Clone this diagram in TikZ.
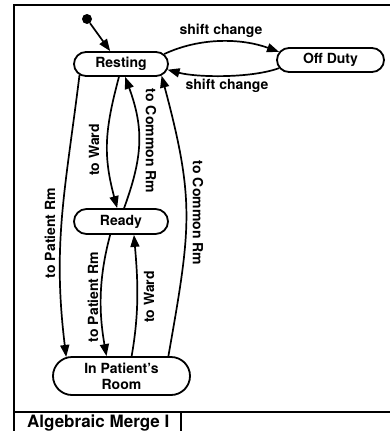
\documentclass[tikz,border=0pt]{standalone}
\usepackage{fontspec}
\setmainfont{TeX Gyre Heros}
\usetikzlibrary{shapes.misc,arrows.meta}
\begin{document}
\begin{tikzpicture}[x=1pt,y=1pt,
  state/.style={draw,line width=1.8pt,rounded rectangle,inner sep=0pt,
    font=\fontsize{14}{16}\selectfont\bfseries,align=center},
  tr/.style={line width=1.7pt,-{Triangle[length=12pt,width=9pt]}},
  lbl/.style={font=\fontsize{14}{16}\selectfont\bfseries,inner sep=0pt},
  frame/.style={line width=2pt}]
\useasboundingbox (0,0) rectangle (390,-431);
\clip (0,0) rectangle (390,-431);
% frame
\draw[frame] (14,-440) -- (14,-5) -- (400,-5);
\draw[frame] (14,-412) -- (400,-412);
\draw[frame] (181,-412) -- (181,-440);
\node[font=\fontsize{17}{20}\selectfont\bfseries,anchor=base west,inner sep=0pt] (title) at (27,-427) {Algebraic Merge I};
% states
\node[circle,fill,inner sep=0pt,minimum size=10pt] (init) at (87,-19) {};
\node[state,minimum width=94pt,minimum height=24pt] (rest) at (121,-64) {Resting};
\node[state,minimum width=107pt,minimum height=24pt] (off) at (330.5,-60) {Off Duty};
\node[state,minimum width=94pt,minimum height=25pt] (ready) at (121,-221.5) {Ready};
\node[state,minimum width=137pt,minimum height=38pt] (pat) at (121.5,-376) {In Patient's\\Room};
% transitions
\draw[tr] (init) -- (rest.130);
\draw[tr] (rest.13) .. controls +(25:40) and +(160:40) .. (off.171);
\draw[tr] (off.189) .. controls +(200:30) and +(-15:30) .. (rest.-7);
\draw[tr] (rest.195) .. controls +(263:115) and +(97:115) .. (pat.161);
\draw[tr] (rest.-99) .. controls +(255:55) and +(105:55) .. (ready.106);
\draw[tr] (ready.77) .. controls +(70:55) and +(-70:55) .. (rest.-72);
\draw[tr] (pat.23) .. controls +(80:130) and +(-75:130) .. (rest.-16);
\draw[tr] (ready.231) .. controls +(255:45) and +(100:45) .. (pat.127);
\draw[tr] (pat.63) .. controls +(80:45) and +(-85:45) .. (ready.-46);
% labels
\node[lbl] (l1) at (221,-31) {shift change};
\node[lbl] (l2) at (227,-86) {shift change};
\node[lbl,rotate=90] (l3) at (50,-233) {to Patient Rm};
\node[lbl,rotate=90] (l4) at (94,-150) {to Ward};
\node[lbl,rotate=-90] (l5) at (151,-141) {to Common Rm};
\node[lbl,rotate=-90] (l6) at (198,-213) {to Common Rm};
\node[lbl,rotate=90] (l7) at (93,-297) {to Patient Rm};
\node[lbl,rotate=90] (l8) at (149,-297) {to Ward};
\end{tikzpicture}
\end{document}
